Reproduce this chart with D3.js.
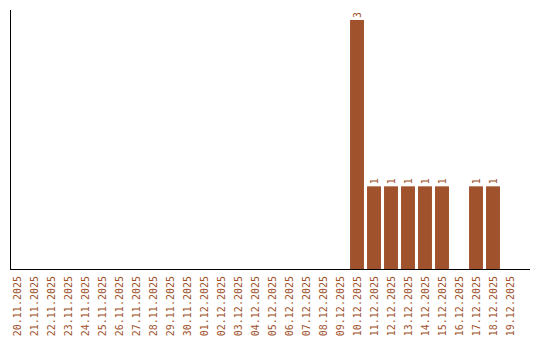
<!DOCTYPE html>
<html>
<head>
<meta charset="utf-8">
<script src="https://cdn.jsdelivr.net/npm/d3@7.9.0/dist/d3.min.js"></script>
<style>
  body { margin: 0; background: #fff; }
  text { font-family: "DejaVu Sans Mono", monospace; font-size: 10px; fill: #a0522d; }
</style>
</head>
<body>
<svg width="540" height="340"></svg>
<script>
// days shown on the x axis
const dates = [
  '20.11.2025', '21.11.2025', '22.11.2025', '23.11.2025', '24.11.2025',
  '25.11.2025', '26.11.2025', '27.11.2025', '28.11.2025', '29.11.2025',
  '30.11.2025', '01.12.2025', '02.12.2025', '03.12.2025', '04.12.2025',
  '05.12.2025', '06.12.2025', '07.12.2025', '08.12.2025', '09.12.2025',
  '10.12.2025', '11.12.2025', '12.12.2025', '13.12.2025', '14.12.2025',
  '15.12.2025', '16.12.2025', '17.12.2025', '18.12.2025', '19.12.2025'
];
const counts = [
  0, 0, 0, 0, 0,
  0, 0, 0, 0, 0,
  0, 0, 0, 0, 0,
  0, 0, 0, 0, 0,
  3, 1, 1, 1, 1,
  1, 0, 1, 1, 0
];

const svg = d3.select('svg');
const color = '#a0522d';

let x = d3.scaleBand()
  .domain(dates)
  .range([8.5, 518.5])
  .paddingInner(0.18)
  .paddingOuter(0.09);

let y = d3.scaleLinear().domain([0, 3]).range([269.5, 20]);

let data = dates.map((d, i) => ({ date: d, value: counts[i] }));

// bars
svg.selectAll('rect.bar')
  .data(data.filter((d) => d.value > 0))
  .join('rect')
  .attr('class', 'bar')
  .attr('x', (d) => x(d.date))
  .attr('width', x.bandwidth())
  .attr('y', (d) => y(d.value))
  .attr('height', (d) => y(0) - y(d.value))
  .attr('fill', color);

// value labels above bars
svg.selectAll('text.val')
  .data(data.filter((d) => d.value > 0))
  .join('text')
  .attr('class', 'val')
  .attr('transform', (d) => `translate(${x(d.date) + x.bandwidth() / 2},${y(d.value) - 2}) rotate(-90)`)
  .attr('dy', '0.35em')
  .attr('text-anchor', 'start')
  .text((d) => d.value);

// date labels
svg.selectAll('text.date')
  .data(dates)
  .join('text')
  .attr('class', 'date')
  .attr('transform', (d) => `translate(${x(d) + x.bandwidth() / 2},276) rotate(-90)`)
  .attr('dy', '0.35em')
  .attr('text-anchor', 'end')
  .text((d) => d);

// axis lines
svg.append('line')
  .attr('x1', 10.5).attr('x2', 10.5)
  .attr('y1', 10).attr('y2', 270)
  .attr('stroke', '#000');
svg.append('line')
  .attr('x1', 10).attr('x2', 530)
  .attr('y1', 269.5).attr('y2', 269.5)
  .attr('stroke', '#000');
</script>
</body>
</html>
